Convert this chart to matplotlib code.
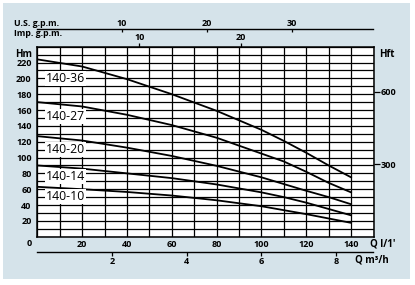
import matplotlib
matplotlib.use("Agg")
import matplotlib.pyplot as plt
from matplotlib.patches import Rectangle

# ---- data ----
q_lmin = [0, 20, 40, 60, 80, 100, 110, 120, 130, 140]
h_140_36 = [224, 215, 199, 180, 159, 135, 121, 106, 90, 75]
h_140_27 = [170, 164.5, 154, 141, 125, 105, 95, 82, 68, 56]
h_140_20 = [127, 121.5, 112.5, 102, 89.5, 75, 66.5, 58, 50, 41]
h_140_14 = [90, 86, 80, 74, 66, 56, 50, 43, 35, 27]
h_140_10 = [63, 60, 56.5, 52, 46, 38.5, 33.5, 28.5, 23, 17.5]
series = [("140-36", h_140_36, 200), ("140-27", h_140_27, 152),
          ("140-20", h_140_20, 110), ("140-14", h_140_14, 76),
          ("140-10", h_140_10, 51)]
x_ticks = [20, 40, 60, 80, 100, 120, 140]
y_ticks = [20, 40, 60, 80, 100, 120, 140, 160, 180, 200, 220]
ft_ticks = [300, 600]
m3h_ticks = [2, 4, 6, 8]
usgpm_ticks = [10, 20, 30]
impgpm_ticks = [10, 20]

W, H = 415, 285
fig = plt.figure(figsize=(W / 100, H / 100), dpi=100)
fig.patch.set_facecolor("white")
bg = Rectangle((3 / W, 1 - 279 / H), 407 / W, 276 / H,
               transform=fig.transFigure, facecolor="#d5e3ea",
               edgecolor="none", zorder=-10)
fig.add_artist(bg)

L, R, T, B = 37.3, 373.5, 46.7, 236.7
ax = fig.add_axes([L / W, 1 - B / H, (R - L) / W, (B - T) / H])
ax.set_zorder(5)
ax.set_facecolor("white")
ax.set_xlim(0, 150)
ax.set_ylim(0, 240)

FONT = "Open Sans"
tick_kw = dict(fontsize=6.5, fontweight="bold", family=FONT)

ax.set_xticks(list(range(0, 151, 10)), minor=True)
ax.set_yticks(list(range(0, 241, 10)), minor=True)
ax.set_xticks(x_ticks)
ax.set_yticks(y_ticks)
ax.set_xticklabels([str(v) for v in x_ticks], **tick_kw)
ax.set_yticklabels([str(v) for v in y_ticks], **tick_kw)
ax.tick_params(which="both", length=0)
ax.tick_params(axis="x", pad=2.5)
ax.tick_params(axis="y", pad=4)
ax.grid(which="both", color="black", linewidth=0.9)
ax.set_axisbelow(True)
for s in ax.spines.values():
    s.set_linewidth(1.1)

for name, h, ly in series:
    ax.plot(q_lmin, h, color="black", linewidth=1.3, zorder=3)
    ax.text(4, ly, name, fontsize=8.8, family=FONT, va="center", ha="left",
            zorder=4, bbox=dict(facecolor="white", edgecolor="none", pad=0.6))

# secondary axes
M_PER_FT = 0.3048
axr = ax.secondary_yaxis("right", functions=(lambda m: m / M_PER_FT, lambda f: f * M_PER_FT))
axr.set_yticks(ft_ticks)
axr.set_yticklabels([str(v) for v in ft_ticks], **tick_kw)
axr.tick_params(direction="out", length=4, width=0.9, pad=1)
axr.spines["right"].set_visible(False)

ph = B - T
axb = ax.secondary_xaxis(-(251.7 - B) / ph, functions=(lambda q: q * 0.06, lambda m: m / 0.06))
axb.set_xticks(m3h_ticks)
axb.set_xticklabels([str(v) for v in m3h_ticks], **tick_kw)
axb.tick_params(direction="out", length=3, width=0.9, pad=1)
axb.spines["bottom"].set_linewidth(1.0)

axu = ax.secondary_xaxis(1 + (T - 29.3) / ph, functions=(lambda q: q / 3.785, lambda g: g * 3.785))
axu.set_xticks(usgpm_ticks)
axu.set_xticklabels([str(v) for v in usgpm_ticks], **tick_kw)
axu.tick_params(direction="in", length=2.5, width=0.9, pad=1)
axu.spines["top"].set_linewidth(1.0)

axi = ax.secondary_xaxis("top", functions=(lambda q: q / 4.546, lambda g: g * 4.546))
axi.set_xticks(impgpm_ticks)
axi.set_xticklabels([str(v) for v in impgpm_ticks], **tick_kw)
axi.tick_params(direction="out", length=3, width=0.9, pad=0.5)
axi.spines["top"].set_visible(False)


def ftext(x, y, s, **kw):
    d = dict(fontsize=6.5, fontweight="bold", family=FONT, va="center")
    d.update(kw)
    fig.text(x / W, 1 - y / H, s, **d)


ftext(14, 23, "U.S. g.p.m.", ha="left", fontsize=6.3)
ftext(14, 33.5, "Imp. g.p.m.", ha="left", fontsize=6.3)
ftext(32, 55, "Hm", ha="right", fontsize=7)
ftext(379, 55, "Hft", ha="left", fontsize=7)
ftext(29, 243.5, "0", ha="center")
ftext(370, 244.5, "Q l/1'", ha="left", fontsize=7)
ftext(355, 259.5, "Q m\u00b3/h", ha="left", fontsize=7)

fig.savefig("out.png", dpi=100, facecolor=fig.get_facecolor())
